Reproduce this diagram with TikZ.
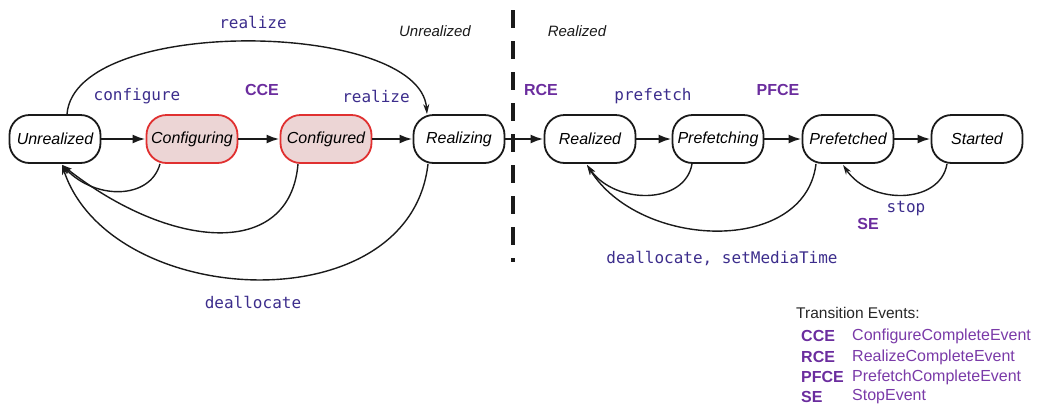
\documentclass[tikz,border=0pt]{standalone}
\usepackage{fontspec}
\setmainfont{Liberation Sans}
\newfontfamily\monof{DejaVu Sans Mono}
\usetikzlibrary{arrows.meta,calc}
\definecolor{codecol}{HTML}{3C2D8C}
\definecolor{abbcol}{HTML}{6B2D9E}
\definecolor{legcol}{HTML}{7A3AA8}
\definecolor{pinkfill}{HTML}{ECD5D5}
\definecolor{redline}{HTML}{E03030}
\definecolor{linecol}{HTML}{1A1A1A}
\tikzset{
  state/.style={draw=linecol, line width=1.8pt, rounded corners=20pt, minimum width=91pt,
    minimum height=48pt, inner sep=0pt, font=\fontsize{16}{19}\selectfont\itshape, fill=white},
  busy/.style={state, draw=redline, fill=pinkfill},
  harr/.style={line width=2.4pt, draw=linecol, -{Latex[length=13pt,width=9pt]}},
  carr/.style={line width=1.4pt, draw=linecol, -{Stealth[length=10pt,width=6pt]}},
  code/.style={font=\fontsize{16}{19}\selectfont\monof, text=codecol, inner sep=0pt},
  abb/.style={font=\fontsize{16}{19}\selectfont\bfseries, text=abbcol, inner sep=0pt},
  sect/.style={font=\fontsize{15}{18}\selectfont\itshape, text=linecol, inner sep=0pt},
  legab/.style={font=\fontsize{16}{19}\selectfont\bfseries, text=abbcol, anchor=west, inner sep=0pt},
  legname/.style={font=\fontsize{16}{19}\selectfont, text=legcol, anchor=west, inner sep=0pt},
}
\begin{document}
\begin{tikzpicture}[x=1pt,y=-1pt]
\useasboundingbox (0,0) rectangle (1039,405);

% states
\node[state] (unr) at (55,139) {Unrealized};
\node[busy]  (cfg) at (192,139) {Configuring};
\node[busy]  (cfd) at (326,139) {Configured};
\node[state] (rlz) at (459,139) {Realizing};
\node[state] (rld) at (590,139) {Realized};
\node[state] (pfg) at (718,139) {Prefetching};
\node[state] (pfd) at (848,139) {Prefetched};
\node[state] (sta) at (977,139) {Started};

% dashed divider
\coordinate (dtop) at (513,10);
\coordinate (dbot) at (513,262);
\draw[line width=3.5pt, dash pattern=on 18pt off 13pt, draw=linecol] (dtop) -- (dbot);

% forward transitions
\draw[harr] (unr) -- (cfg);
\draw[harr] (cfg) -- (cfd);
\draw[harr] (cfd) -- (rlz);
\draw[harr] (rlz) -- (rld);
\draw[harr] (rld) -- (pfg);
\draw[harr] (pfg) -- (pfd);
\draw[harr] (pfd) -- (sta);

% realize (direct)
\draw[carr] ($(unr.north)+(12,0)$) .. controls (75,15) and (420,20) .. ($(rlz.north)+(-32,0)$);

% returns to Unrealized
\draw[carr] ($(cfg.south)+(-32,0)$) .. controls (150,200) and (95,200) .. ($(unr.south)+(7,1)$);
\draw[carr] ($(cfd.south)+(-28,0)$) .. controls (290,260) and (170,250) .. ($(unr.south)+(7,1)$);
\draw[carr] ($(rlz.south)+(-31,0)$) .. controls (410,325) and (110,310) .. ($(unr.south)+(7,1)$);

% returns to Realized / Prefetched
\draw[carr] ($(pfg.south)+(-26,0)$) .. controls (685,205) and (615,205) .. ($(rld.south)+(-3,1)$);
\draw[carr] ($(pfd.south)+(-32,0)$) .. controls (805,255) and (640,250) .. ($(rld.south)+(-3,1)$);
\draw[carr] ($(sta.south)+(-30,0)$) .. controls (940,205) and (870,205) .. ($(pfd.south)+(-5,1)$);

% labels
\node[code] (lrealtop) at (253,22) {realize};
\node[code] (lconf) at (137,96) {configure};
\node[abb]  (lcce) at (262,90) {CCE};
\node[code] (lreal) at (376,96) {realize};
\node[code] (ldea) at (253,302) {deallocate};
\node[abb]  (lrce) at (541,90) {RCE};
\node[code] (lpre) at (653,96) {prefetch};
\node[abb]  (lpfce) at (778,90) {PFCE};
\node[code] (lstop) at (906,209) {stop};
\node[abb]  (lse) at (868,224) {SE};
\node[code] (ldeas) at (722,258) {deallocate, setMediaTime};

\node[sect] (sunr) at (435,31) {Unrealized};
\node[sect] (srld) at (577,31) {Realized};

% legend
\node[font=\fontsize{15.5}{18}\selectfont, text=black!85, anchor=west, inner sep=0pt] (ltitle) at (796,313) {Transition Events:};
\node[legab] (la1) at (801,336) {CCE};
\node[legname] (ln1) at (852,336) {ConfigureCompleteEvent};
\node[legab] (la2) at (801,357) {RCE};
\node[legname] (ln2) at (852,357) {RealizeCompleteEvent};
\node[legab] (la3) at (801,377) {PFCE};
\node[legname] (ln3) at (852,377) {PrefetchCompleteEvent};
\node[legab] (la4) at (801,397) {SE};
\node[legname] (ln4) at (852,397) {StopEvent};
\end{tikzpicture}
\end{document}
